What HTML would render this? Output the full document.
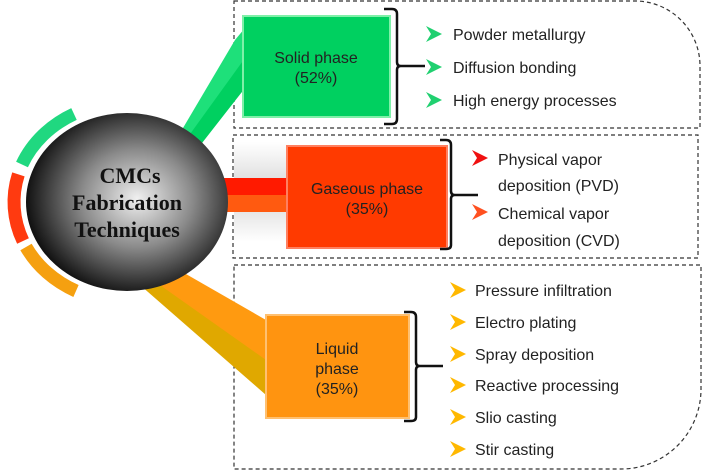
<!DOCTYPE html>
<html><head><style>
body{margin:0;background:#fff;width:703px;height:472px;overflow:hidden}
svg{display:block}
text{font-family:"Liberation Sans",sans-serif;fill:#222;font-size:16px}
.c{font-family:"Liberation Serif",serif;font-weight:bold;font-size:22px;fill:#111}
</style></head><body>
<svg width="703" height="472" viewBox="0 0 703 472">
<defs>
<radialGradient id="g" cx="0.55" cy="0.48" r="0.55">
<stop offset="0" stop-color="#f0f0f0"/><stop offset="0.5" stop-color="#8a8a8a"/><stop offset="1" stop-color="#111"/>
</radialGradient>
<linearGradient id="sh" x1="0" y1="0" x2="0" y2="1">
<stop offset="0" stop-color="#fff"/><stop offset="0.5" stop-color="#ccc"/><stop offset="1" stop-color="#fff"/>
</linearGradient>
</defs>
<path d="M234 1 H635 A65 65 0 0 1 700 66 V128 H234 Z" fill="none" stroke="#333" stroke-dasharray="4,3" stroke-width="1.2"/>
<rect x="233" y="135" width="465" height="123" fill="none" stroke="#333" stroke-dasharray="4,3" stroke-width="1.2"/>
<path d="M234 265 H701 V389 A80 80 0 0 1 621 469 H234 Z" fill="none" stroke="#333" stroke-dasharray="4,3" stroke-width="1.2"/>
<rect x="234" y="142" width="55" height="100" fill="url(#sh)" opacity="0.8"/>
<path d="M170 150 L235 40 L245 28 L245 88 L195 150 Z" fill="#1ee07a"/>
<path d="M180 148 L245 58 L245 88 L195 152 Z" fill="#00d060"/>
<rect x="215" y="178" width="75" height="17" fill="#ff1a00"/>
<rect x="215" y="195" width="75" height="17" fill="#ff5a10"/>
<path d="M160 268 L266 350 L266 395 L140 285 Z" fill="#e0a800"/>
<path d="M165 262 L266 320 L266 360 L150 278 Z" fill="#ff9a10"/>
<g fill="none" stroke-width="13">
<path d="M22 164.5 A113 100 0 0 1 74 114" stroke="#20d880"/>
<path d="M18.4 174.4 A113 100 0 0 0 23 241" stroke="#ff3a10"/>
<path d="M26 247 A113 100 0 0 0 76 291" stroke="#f5a010"/>
</g>
<ellipse cx="127" cy="202" rx="101" ry="89" fill="url(#g)"/>
<text class="c" x="130" y="183" text-anchor="middle">CMCs</text>
<text class="c" x="127" y="210" text-anchor="middle">Fabrication</text>
<text class="c" x="127" y="237" text-anchor="middle">Techniques</text>
<rect x="243" y="16" width="147" height="101" fill="#00d060" stroke="#7ff0a8" stroke-width="2"/>
<text x="316" y="63" text-anchor="middle">Solid phase</text>
<text x="316" y="83" text-anchor="middle">(52%)</text>
<rect x="287" y="146" width="160" height="102" fill="#ff3a00" stroke="#ff8060" stroke-width="2"/>
<text x="367" y="194" text-anchor="middle">Gaseous phase</text>
<text x="367" y="214" text-anchor="middle">(35%)</text>
<rect x="266" y="315" width="143" height="103" fill="#ff9410" stroke="#ffc070" stroke-width="2"/>
<text x="337" y="354" text-anchor="middle">Liquid</text>
<text x="337" y="374" text-anchor="middle">phase</text>
<text x="337" y="394" text-anchor="middle">(35%)</text>
<g fill="none" stroke="#111" stroke-width="2.5">
<path d="M384 9 H392 Q397 9 397 14 V62 Q397 66 401 66 H425 M401 66 Q397 66 397 70 V119 Q397 124 392 124 H384"/>
<path d="M440 140 H446 Q451 140 451 145 V191 Q451 195 455 195 H478 M455 195 Q451 195 451 199 V245 Q451 249 446 249 H440"/>
<path d="M404 312 H411 Q416 312 416 317 V362 Q416 366 420 366 H443 M420 366 Q416 366 416 370 V417 Q416 421 411 421 H404"/>
</g>
<g fill="#20d070">
<path d="M426 26 L442 34 L426 42 L431 34Z"/><path d="M426 59 L442 67 L426 75 L431 67Z"/><path d="M426 92 L442 100 L426 108 L431 100Z"/>
</g>
<path d="M472 150 L488 158 L472 166 L477 158Z" fill="#f01010"/>
<path d="M472 204 L488 212 L472 220 L477 212Z" fill="#ff5020"/>
<g fill="#ffb800">
<path d="M450 282 L466 290 L450 298 L455 290Z"/><path d="M450 314 L466 322 L450 330 L455 322Z"/><path d="M450 346 L466 354 L450 362 L455 354Z"/><path d="M450 377 L466 385 L450 393 L455 385Z"/><path d="M450 409 L466 417 L450 425 L455 417Z"/><path d="M450 441 L466 449 L450 457 L455 449Z"/>
</g>
<text x="453" y="40">Powder metallurgy</text>
<text x="453" y="73">Diffusion bonding</text>
<text x="453" y="106">High energy processes</text>
<text x="498" y="165">Physical vapor</text>
<text x="498" y="191">deposition (PVD)</text>
<text x="498" y="219">Chemical vapor</text>
<text x="498" y="246">deposition (CVD)</text>
<text x="475" y="296">Pressure infiltration</text>
<text x="475" y="328">Electro plating</text>
<text x="475" y="360">Spray deposition</text>
<text x="475" y="391">Reactive processing</text>
<text x="475" y="423">Slio casting</text>
<text x="475" y="455">Stir casting</text>
</svg>
</body></html>
